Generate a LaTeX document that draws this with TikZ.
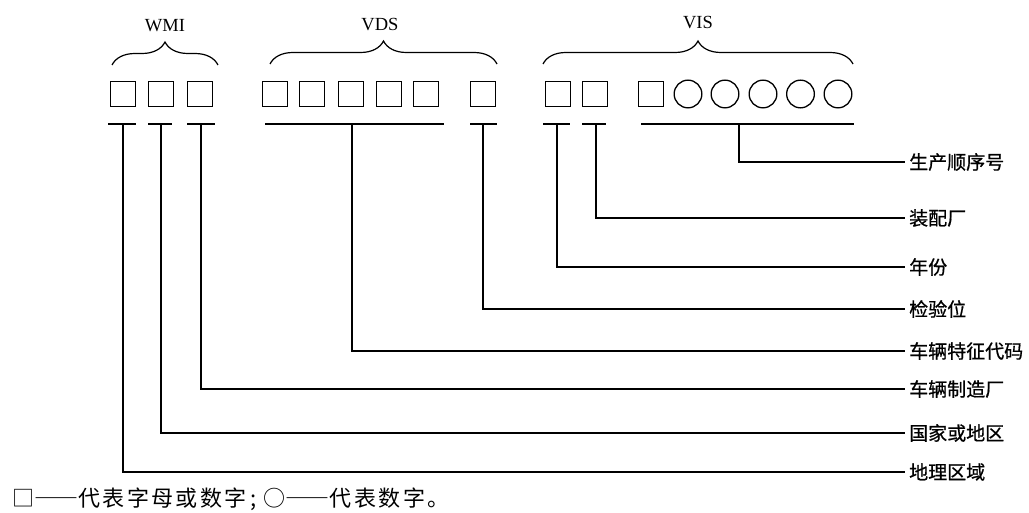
\documentclass[tikz,border=0pt]{standalone}
\usepackage{fontspec}
\setmainfont{Liberation Serif}
\newfontfamily\cjk[FakeBold=0.8]{Noto Sans CJK SC}
\newfontfamily\cjkleg[LetterSpace=11]{Noto Sans CJK SC}
\newfontfamily\cjklegd[LetterSpace=11,RawFeature=+fwid]{Noto Sans CJK SC}
\usetikzlibrary{decorations.pathreplacing}
\begin{document}
\begin{tikzpicture}[x=1pt,y=-1pt,
  sq/.style={draw,line width=1.3pt,minimum size=24.7pt,inner sep=0pt},
  ci/.style={draw,circle,line width=1.3pt,minimum size=27.7pt,inner sep=0pt},
  ln/.style={line width=1.1pt},
  brc/.style={decorate,decoration={brace,amplitude=23pt},line width=1.2pt},
  grp/.style={inner sep=0pt,font=\fontsize{18.5}{20}\selectfont},
  lab/.style={anchor=west,inner sep=0pt,font=\cjk\fontsize{19}{20}\selectfont}]
\useasboundingbox (0,0) rectangle (1029,513);

% group labels and braces
\node[grp] (gw) at (165,26) {WMI};
\node[grp] (gd) at (380,25) {VDS};
\node[grp] (gv) at (698,23) {VIS};
\draw[brc] (112,65) -- (218,65);
\draw[brc] (270,64) -- (497,64);
\draw[brc] (543,64) -- (853,64);

% character positions
\node[sq] (b1) at (123,94) {};
\node[sq] (b2) at (161,94) {};
\node[sq] (b3) at (200,94) {};
\node[sq] (b4) at (275,94) {};
\node[sq] (b5) at (312,94) {};
\node[sq] (b6) at (351,94) {};
\node[sq] (b7) at (389,94) {};
\node[sq] (b8) at (426,94) {};
\node[sq] (b9) at (483,94) {};
\node[sq] (b10) at (558,94) {};
\node[sq] (b11) at (595,94) {};
\node[sq] (b12) at (651,94) {};
\node[ci] (c1) at (688,94) {};
\node[ci] (c2) at (725,94) {};
\node[ci] (c3) at (763,94) {};
\node[ci] (c4) at (800.5,94) {};
\node[ci] (c5) at (838,94) {};

% underlines
\draw[ln] (108,124) -- (136,124);
\draw[ln] (148,124) -- (172,124);
\draw[ln] (187,124) -- (215,124);
\draw[ln] (265,124) -- (444,124);
\draw[ln] (470,124) -- (497,124);
\draw[ln] (543,124) -- (570,124);
\draw[ln] (582,124) -- (606,124);
\draw[ln] (641,124) -- (854,124);

\coordinate (t1) at (123,124);
\coordinate (t2) at (161,124);
\coordinate (t3) at (201,124);
\coordinate (t4) at (352,124);
\coordinate (t5) at (483,124);
\coordinate (t6) at (557,124);
\coordinate (t7) at (596,124);
\coordinate (t8) at (739,124);

% labels
\node[lab] (l1) at (909,472) {地理区域};
\node[lab] (l2) at (909,433) {国家或地区};
\node[lab] (l3) at (909,389) {车辆制造厂};
\node[lab] (l4) at (909,351) {车辆特征代码};
\node[lab] (l5) at (909,309) {检验位};
\node[lab] (l6) at (909,267) {年份};
\node[lab] (l7) at (909,218) {装配厂};
\node[lab] (l8) at (909,162) {生产顺序号};

% connectors
\draw[ln] (t1) |- ([xshift=-4pt]l1.west);
\draw[ln] (t2) |- ([xshift=-4pt]l2.west);
\draw[ln] (t3) |- ([xshift=-4pt]l3.west);
\draw[ln] (t4) |- ([xshift=-4pt]l4.west);
\draw[ln] (t5) |- ([xshift=-4pt]l5.west);
\draw[ln] (t6) |- ([xshift=-4pt]l6.west);
\draw[ln] (t7) |- ([xshift=-4pt]l7.west);
\draw[ln] (t8) |- ([xshift=-4pt]l8.west);

% legend
\node[anchor=west,inner sep=0pt,font=\cjkleg\fontsize{22}{24}\selectfont] (leg) at (12,499) {□{\cjklegd ——}代表字母或数字\kern4pt;\kern7pt ○{\cjklegd ——}代表数字。};
\end{tikzpicture}
\end{document}
